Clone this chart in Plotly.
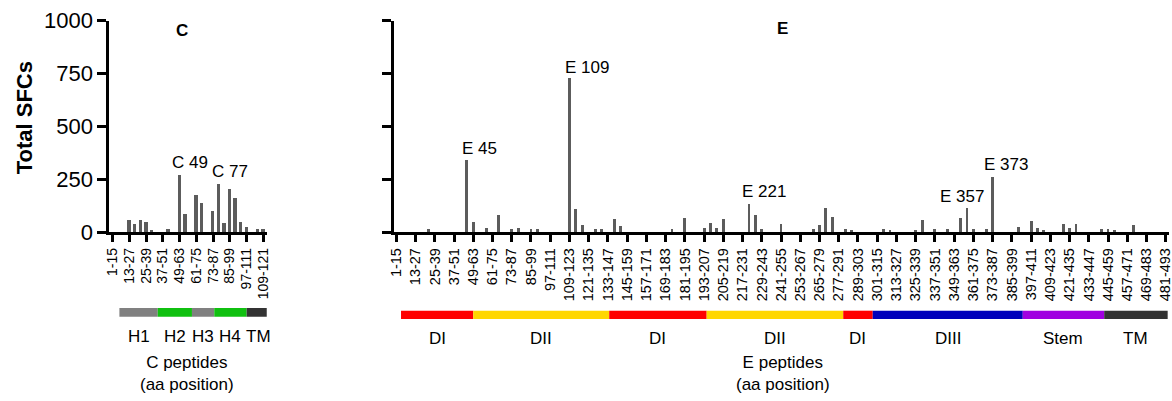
import plotly.graph_objects as go

# ---------------- data ----------------
c_tick_labels = ["1-15", "13-27", "25-39", "37-51", "49-63", "61-75", "73-87",
                 "85-99", "97-111", "109-121"]
c_values = [0, 0, 0, 60, 41, 60, 49, 14, 0, 0,
            19, 0, 271, 90, 0, 176, 139, 0, 101, 231,
            44, 206, 165, 49, 28, 0, 17, 17]

e_tick_labels = ["1-15", "13-27", "25-39", "37-51", "49-63", "61-75", "73-87", "85-99",
                 "97-111", "109-123", "121-135", "133-147", "145-159", "157-171", "169-183",
                 "181-195", "193-207", "205-219", "217-231", "229-243", "241-255", "253-267",
                 "265-279", "277-291", "289-303", "301-315", "313-327", "325-339", "337-351",
                 "349-363", "361-375", "373-387", "385-399", "397-411", "409-423", "421-435",
                 "433-447", "445-459", "457-471", "469-483", "481-493"]
e_values = [0, 0, 0, 0, 0, 16, 0, 0, 0, 0,
            0, 342, 52, 0, 21, 0, 81, 0, 16, 21,
            0, 16, 17, 0, 0, 0, 0, 732, 112, 38,
            0, 16, 16, 0, 65, 30, 0, 0, 0, 0,
            0, 0, 0, 16, 0, 71, 0, 0, 21, 44,
            21, 63, 0, 0, 0, 136, 81, 16, 0, 0,
            41, 0, 0, 0, 0, 16, 38, 114, 74, 0,
            16, 13, 0, 0, 0, 0, 16, 13, 0, 0,
            0, 14, 60, 0, 16, 0, 16, 0, 71, 117,
            16, 0, 16, 263, 0, 0, 0, 28, 0, 55,
            22, 13, 0, 0, 41, 24, 41, 0, 0, 0,
            16, 16, 13, 0, 0, 36, 0, 0, 0, 0,
            0]

# labelled peptides (peptide index, label)
c_peak_idx = [12, 19]
c_peak_text = ["C 49", "C 77"]
e_peak_idx = [11, 27, 55, 89, 93]
e_peak_text = ["E 45", "E 109", "E 221", "E 357", "E 373"]

# protein regions (start/end in peptide-index units)
c_region_names = ["H1", "H2", "H3", "H4", "TM"]
c_region_start = [1.2, 8.07, 14.2, 18.2, 24.0]
c_region_end = [8.07, 14.2, 18.2, 24.0, 28.2]
e_region_names = ["DI", "DII", "DI", "DII", "DI", "DIII", "Stem", "TM"]
e_region_start = [0.73, 12.0, 33.2, 48.4, 69.7, 74.3, 97.7, 110.4]
e_region_end = [12.0, 33.2, 48.4, 69.7, 74.3, 97.7, 110.4, 120.3]

# ---------------- styles ----------------
FONT = "Arial, Liberation Sans, sans-serif"
BAR = "#5c5c5c"
c_region_colors = ["#808080", "#10c010", "#808080", "#10c010", "#333333"]
e_region_colors = ["#ff0000", "#ffd700", "#ff0000", "#ffd700", "#ff0000",
                   "#0000bb", "#a000e0", "#333333"]
c_ann_shift = [(10, 12), (11, 12)]
e_ann_shift = [(13, 11), (18, 10), (15, 12), (-5, 11), (13, 12.5)]

fig = go.Figure()
fig.add_trace(go.Bar(x=list(range(len(c_values))), y=c_values, width=0.6,
                     marker=dict(color=BAR, line=dict(width=0)),
                     xaxis="x", yaxis="y", showlegend=False))
fig.add_trace(go.Bar(x=list(range(len(e_values))), y=e_values, width=0.45,
                     marker=dict(color=BAR, line=dict(width=0)),
                     xaxis="x2", yaxis="y2", showlegend=False))

ydom = [0.4207, 0.9484]
common_x = dict(showline=True, linecolor="black", linewidth=3, ticks="outside",
                ticklen=7, tickwidth=3, tickcolor="black", tickangle=-90,
                showgrid=False, zeroline=False, automargin=False,
                ticklabeloverflow="allow")
common_y = dict(range=[0, 1000], showline=True, linecolor="black", linewidth=3,
                ticks="outside", ticklen=9, tickwidth=3, tickcolor="black",
                tickvals=[0, 250, 500, 750, 1000], showgrid=False, zeroline=False,
                automargin=False)

fig.update_layout(
    width=1172, height=401, margin=dict(l=0, r=0, t=0, b=0),
    paper_bgcolor="white", plot_bgcolor="white", bargap=0,
    font=dict(family=FONT, color="black"),
    xaxis=dict(domain=[0.0933, 0.2276], range=[-0.6, 27.6], anchor="y",
               tickvals=list(range(0, 3 * len(c_tick_labels), 3)), ticktext=c_tick_labels,
               tickfont=dict(size=14, family=FONT, color="black"), **common_x),
    xaxis2=dict(domain=[0.3362, 0.9974], range=[-0.36, 120.5], anchor="y2",
                tickvals=list(range(0, 3 * len(e_tick_labels), 3)), ticktext=e_tick_labels,
                tickfont=dict(size=14.5, family=FONT, color="black"), **common_x),
    yaxis=dict(domain=ydom, anchor="x", showticklabels=True,
               tickfont=dict(size=22, family=FONT, color="black"), **common_y),
    yaxis2=dict(domain=ydom, anchor="x2", showticklabels=False, **common_y),
)

shapes = []
annotations = []
for s, e, col in zip(c_region_start, c_region_end, c_region_colors):
    shapes.append(dict(type="rect", xref="x", yref="paper", x0=s, x1=e,
                       y0=0.210, y1=0.2319, fillcolor=col, line=dict(width=0)))
for s, e, name in zip(c_region_start, c_region_end, c_region_names):
    annotations.append(dict(xref="x", yref="paper", x=(s + e) / 2, y=0.160,
                            text=name, showarrow=False, xanchor="center", yanchor="middle",
                            font=dict(size=17, family=FONT)))
for s, e, col in zip(e_region_start, e_region_end, e_region_colors):
    shapes.append(dict(type="rect", xref="x2", yref="paper", x0=s, x1=e,
                       y0=0.2045, y1=0.2252, fillcolor=col, line=dict(width=0)))
for s, e, name in zip(e_region_start, e_region_end, e_region_names):
    annotations.append(dict(xref="x2", yref="paper", x=(s + e) / 2, y=0.157,
                            text=name, showarrow=False, xanchor="center", yanchor="middle",
                            font=dict(size=17, family=FONT)))

for i, t, (dx, dy) in zip(c_peak_idx, c_peak_text, c_ann_shift):
    annotations.append(dict(xref="x", yref="y", x=i, y=c_values[i], text=t,
                            showarrow=False, xanchor="center", yanchor="middle",
                            xshift=dx, yshift=dy, font=dict(size=17, family=FONT)))
for i, t, (dx, dy) in zip(e_peak_idx, e_peak_text, e_ann_shift):
    annotations.append(dict(xref="x2", yref="y2", x=i, y=e_values[i], text=t,
                            showarrow=False, xanchor="center", yanchor="middle",
                            xshift=dx, yshift=dy, font=dict(size=17, family=FONT)))

# panel titles / axis titles
annotations += [
    dict(xref="paper", yref="paper", x=0.155, y=0.9234, text="<b>C</b>", showarrow=False,
         xanchor="center", yanchor="middle", font=dict(size=17, family=FONT)),
    dict(xref="paper", yref="paper", x=0.668, y=0.930, text="<b>E</b>", showarrow=False,
         xanchor="center", yanchor="middle", font=dict(size=17, family=FONT)),
    dict(xref="paper", yref="paper", x=0.0205, y=0.705, text="<b>Total SFCs</b>",
         textangle=-90, showarrow=False, xanchor="center", yanchor="middle",
         font=dict(size=22, family=FONT)),
    dict(xref="paper", yref="paper", x=0.1596, y=0.0675, text="C peptides<br>(aa position)",
         showarrow=False, xanchor="center", yanchor="middle", font=dict(size=17, family=FONT)),
    dict(xref="paper", yref="paper", x=0.6685, y=0.0675, text="E peptides<br>(aa position)",
         showarrow=False, xanchor="center", yanchor="middle", font=dict(size=17, family=FONT)),
]

fig.update_layout(shapes=shapes, annotations=annotations)
fig.write_html("out.html")
